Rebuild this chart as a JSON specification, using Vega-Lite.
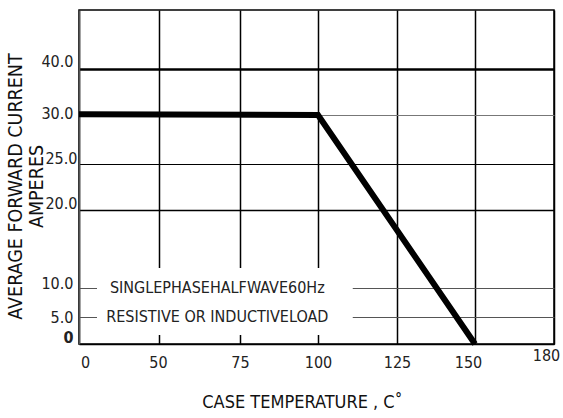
{
  "$schema": "https://vega.github.io/schema/vega-lite/v6.json",
  "width": 475,
  "height": 334,
  "autosize": {"type": "none"},
  "padding": {"left": 79, "top": 10, "right": 9, "bottom": 74},
  "background": "white",
  "view": {"stroke": "black", "strokeWidth": 1.5},
  "datasets": {
    "curve": [
      {"temp": 0, "current": 30.15},
      {"temp": 100, "current": 30},
      {"temp": 150, "current": 0}
    ],
    "box": [{"temp": 11.25, "temp2": 111, "current": 1.67, "current2": 12.56}],
    "notes": [
      {"temp": 68, "current": 10, "note": "SINGLEPHASEHALFWAVE60Hz"},
      {"temp": 68, "current": 5, "note": "RESISTIVE OR INDUCTIVELOAD"}
    ]
  },
  "encoding": {
    "x": {
      "field": "temp",
      "type": "quantitative",
      "scale": {"domain": [0, 50, 75, 100, 125, 150, 180], "range": [0, 80, 161, 239, 318, 396, 475], "nice": false, "zero": false},
      "axis": {
        "values": [0, 50, 75, 100, 125, 150, 180],
        "title": "CASE TEMPERATURE , C˚",
        "grid": true,
        "gridColor": "black",
        "gridWidth": 1.5,
        "ticks": false,
        "domainColor": "black",
        "domainWidth": 1.5,
        "labelFont": "DejaVu Sans Condensed, Liberation Sans",
        "labelFontSize": 16,
        "labelColor": "#222",
        "labelBaseline": "top",
        "labelPadding": {"condition": {"test": "datum.value == 180", "value": 3}, "value": 10},
        "labelOffset": {"condition": [{"test": "datum.value == 0", "value": 6}, {"test": "datum.value == 50", "value": -1}, {"test": "datum.value == 150", "value": -7}, {"test": "datum.value == 180", "value": -8}], "value": 0},
        "labelFlush": false,
        "labelOverlap": false,
        "titleFont": "DejaVu Sans Condensed, Liberation Sans",
        "titleFontSize": 18,
        "titleFontWeight": "normal",
        "titleColor": "#111",
        "titleAlign": "center",
        "titleBaseline": "middle",
        "titleX": 223,
        "titleY": 58
      }
    },
    "y": {
      "field": "current",
      "type": "quantitative",
      "scale": {"domain": [0, 5, 10, 20, 25, 30, 40, 50], "range": [334, 307, 278, 200, 154, 105, 59, 0], "nice": false, "zero": false},
      "axis": {
        "values": [0, 5, 10, 20, 25, 30, 40],
        "title": ["AVERAGE FORWARD CURRENT", "AMPERES"],
        "grid": true,
        "gridColor": {"condition": [{"test": "datum.value == 30", "value": "#777"}, {"test": "datum.value == 10 || datum.value == 5", "value": "#555"}], "value": "black"},
        "gridWidth": {"condition": [{"test": "datum.value == 40", "value": 2.5}, {"test": "datum.value == 20", "value": 1.5}], "value": 1.2},
        "ticks": false,
        "domainColor": "#555",
        "domainWidth": 1.5,
        "labelFont": "DejaVu Sans Condensed, Liberation Sans",
        "labelFontSize": 16,
        "labelColor": "#222",
        "labelExpr": "datum.value == 0 ? '0' : format(datum.value, '.1f')",
        "labelFontWeight": {"condition": {"test": "datum.value == 0", "value": "bold"}, "value": "normal"},
        "labelPadding": {"condition": {"test": "datum.value == 25 || datum.value == 20", "value": 2}, "value": 6},
        "labelOffset": {"condition": [
          {"test": "datum.value == 40", "value": -8},
          {"test": "datum.value == 30", "value": -2},
          {"test": "datum.value == 25", "value": -6},
          {"test": "datum.value == 5", "value": 0},
          {"test": "datum.value == 10", "value": -5}
        ], "value": -7},
        "labelFlush": false,
        "labelOverlap": false,
        "titleFont": "DejaVu Sans Condensed, Liberation Sans",
        "titleFontSize": 19.5,
        "titleFontWeight": "normal",
        "titleColor": "#111",
        "titleLineHeight": 21,
        "titleAngle": -90,
        "titleAlign": "center",
        "titleBaseline": "middle",
        "titleX": -64,
        "titleY": 176
      }
    }
  },
  "layer": [
    {
      "data": {"name": "curve"},
      "mark": {"type": "line", "color": "black", "strokeWidth": 6, "strokeJoin": "miter", "strokeCap": "butt"}
    },
    {
      "data": {"name": "box"},
      "mark": {"type": "rect", "fill": "white"},
      "encoding": {
        "x2": {"field": "temp2"},
        "y2": {"field": "current2"}
      }
    },
    {
      "data": {"name": "notes"},
      "mark": {"type": "text", "font": "DejaVu Sans Condensed, Liberation Sans", "fontSize": 16, "color": "#222", "align": "center", "baseline": "middle"},
      "encoding": {
        "text": {"field": "note"}
      }
    }
  ]
}
